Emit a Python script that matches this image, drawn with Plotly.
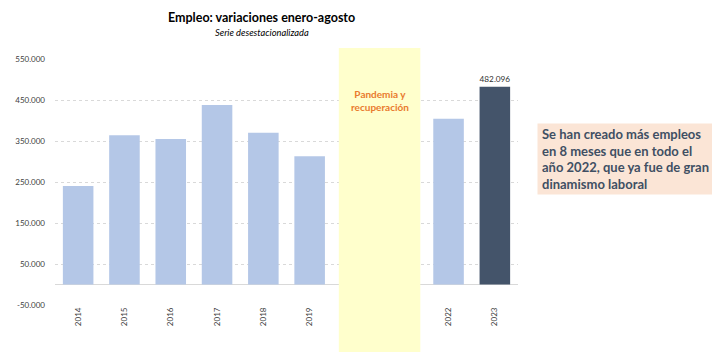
import plotly.graph_objects as go

years = ["2014", "2015", "2016", "2017", "2018", "2019", "2020", "2021", "2022", "2023"]
values = [240000, 364000, 355000, 438000, 370000, 313000, None, None, 404000, 482096]
tick_labels = ["2014", "2015", "2016", "2017", "2018", "2019", "", "", "2022", "2023"]
y_ticks = [-50000, 50000, 150000, 250000, 350000, 450000, 550000]
y_tick_labels = ["-50.000", "50.000", "150.000", "250.000", "350.000", "450.000", "550.000"]

light = "#B4C7E7"
dark = "#44546A"
colors = [dark if y == "2023" else light for y in years]
labels = ["482.096" if y == "2023" else "" for y in years]

fig = go.Figure()
fig.add_trace(go.Bar(
    x=years, y=values, marker=dict(color=colors, line=dict(width=0)),
    width=0.66, text=labels, textposition="outside", cliponaxis=False,
    textfont=dict(size=9, color="#303030", family="Lato"),
    hoverinfo="skip",
))

fig.add_shape(type="rect", xref="x", yref="paper", x0=5.63, x1=7.39, y0=-0.191, y1=1.045,
              fillcolor="#FFFFCC", line=dict(width=0), layer="above")

fig.add_annotation(text="<b>Pandemia y<br>recuperación</b>", xref="x", yref="paper",
                   x=6.515, y=0.833, xanchor="center", yanchor="middle", showarrow=False,
                   font=dict(size=10, color="#E97B2E", family="Lato"))

fig.add_annotation(text="<b>Empleo: variaciones enero-agosto</b>", xref="paper", yref="paper",
                   x=0.447, y=1.167, xanchor="center", yanchor="middle", showarrow=False,
                   font=dict(size=12.5, color="#000000", family="Lato"))
fig.add_annotation(text="<i>Serie desestacionalizada</i>", xref="paper", yref="paper",
                   x=0.447, y=1.107, xanchor="center", yanchor="middle", showarrow=False,
                   font=dict(size=9.3, color="#000000", family="Lato"))

fig.add_annotation(
    text="<b>Se han creado más empleos<br>en 8 meses que en todo el<br>año 2022, que ya fue de gran<br>dinamismo laboral</b>",
    xref="paper", yref="paper", x=1.040, y=0.740, xanchor="left", yanchor="top",
    showarrow=False, align="left", bgcolor="#FBE5D6", borderpad=4, width=170, height=62,
    font=dict(size=13, color="#404F63", family="Lato"))

fig.update_layout(
    width=712, height=354,
    margin=dict(l=46.5, r=201.5, t=51, b=57),
    paper_bgcolor="white", plot_bgcolor="white",
    showlegend=False,
    font=dict(family="Lato", color="#595959"),
    xaxis=dict(type="category", range=[-0.5, 9.5], tickmode="array", tickvals=years,
               ticktext=tick_labels, tickangle=-90, tickfont=dict(size=8, color="#404040"),
               showgrid=False, showline=False, ticks="", automargin=False),
    yaxis=dict(range=[-50000, 550000], tickmode="array", tickvals=y_ticks, ticktext=y_tick_labels,
               tickfont=dict(size=8, color="#404040"), ticklabelstandoff=9,
               showgrid=True, gridcolor="#D9D9D9", griddash="3px,3px", gridwidth=1,
               zeroline=True, zerolinecolor="#D9D9D9", zerolinewidth=1,
               showline=False, ticks="", automargin=False),
)

fig.write_html("out.html")
